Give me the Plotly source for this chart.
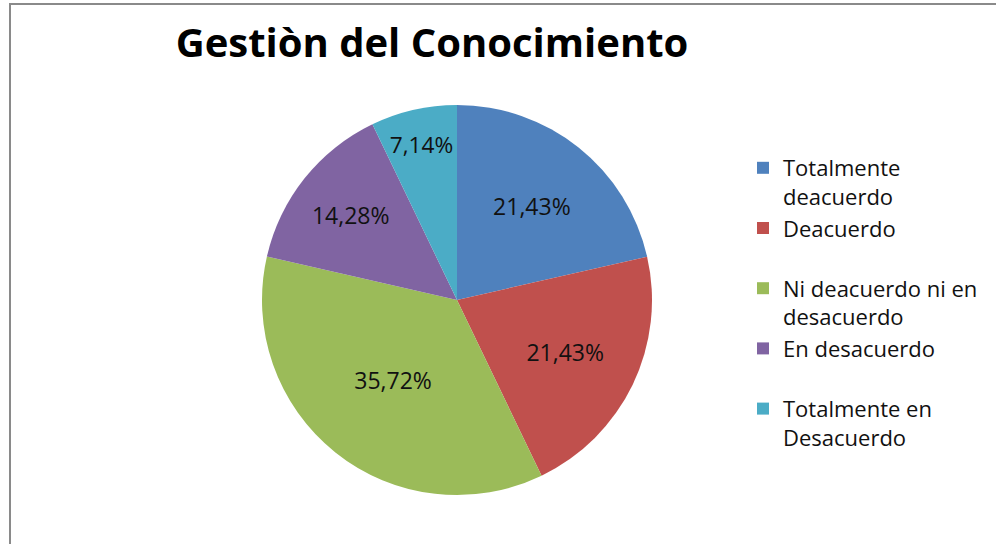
import plotly.graph_objects as go

categories = ["Totalmente<br>deacuerdo", "Deacuerdo<br> ", "Ni deacuerdo ni en<br>desacuerdo",
              "En desacuerdo<br> ", "Totalmente en<br>Desacuerdo"]
values = [21.43, 21.43, 35.72, 14.28, 7.14]
colors = ["#4F81BD", "#C0504D", "#9BBB59", "#8064A2", "#4BACC6"]
title_text = "Gestiòn del Conocimiento"

W, H = 996, 544
cx, cy, r = 457, 300, 195
FONT = "Open Sans"

fig = go.Figure(go.Pie(
    labels=categories,
    values=values,
    sort=False,
    direction="clockwise",
    rotation=0,
    marker=dict(colors=colors, line=dict(width=0)),
    texttemplate="%{value:.2f}%",
    textposition="inside",
    insidetextorientation="horizontal",
    textfont=dict(family=FONT, size=23, color="#111111"),
    domain=dict(x=[(cx - r) / W, (cx + r) / W], y=[1 - (cy + r) / H, 1 - (cy - r) / H]),
    hoverinfo="label+percent",
))

fig.update_layout(
    width=W, height=H,
    margin=dict(l=0, r=0, t=0, b=0),
    paper_bgcolor="white",
    separators=",.",
    title=dict(text="<b>" + title_text + "</b>", x=432 / W, xanchor="center",
               y=1 - 43 / H, yanchor="middle",
               font=dict(family=FONT, size=40, color="#000000")),
    legend=dict(x=743 / W, xanchor="left", y=1 - 147 / H, yanchor="top",
                font=dict(family=FONT, size=22, color="#111111"),
                valign="top", bgcolor="rgba(0,0,0,0)"),
    shapes=[
        dict(type="line", xref="paper", yref="paper", x0=9 / W, x1=1, y0=1 - 4 / H, y1=1 - 4 / H,
             line=dict(color="#8a8a8a", width=2)),
        dict(type="line", xref="paper", yref="paper", x0=10 / W, x1=10 / W, y0=0, y1=1 - 4 / H,
             line=dict(color="#8a8a8a", width=2)),
    ],
)

fig.write_html("out.html", config={"displayModeBar": False},
               post_script="document.body.style.margin='0';document.body.style.padding='0';")
